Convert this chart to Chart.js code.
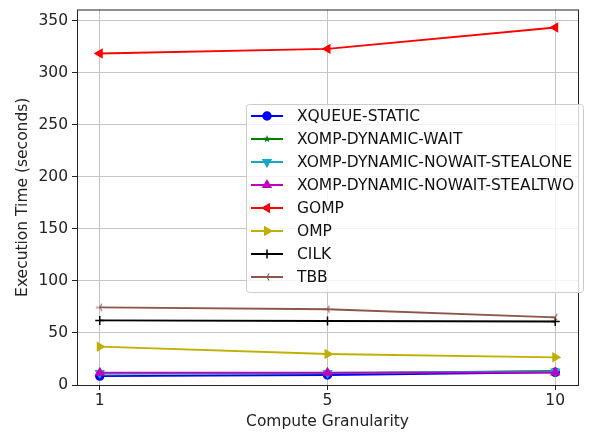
<!DOCTYPE html>
<html>
<head>
<meta charset="utf-8">
<script src="https://cdn.jsdelivr.net/npm/chart.js@4.4.0/dist/chart.umd.min.js"></script>
<style>
  html, body { margin: 0; padding: 0; background: #fff; }
  #wrap { width: 595px; height: 436px; }
</style>
</head>
<body>
<div id="wrap"><canvas id="chart" width="595" height="436"></canvas></div>
<script>
// Data
const xLabels = ['1', '5', '10'];
const seriesNames = [
    'XQUEUE-STATIC',
    'XOMP-DYNAMIC-WAIT',
    'XOMP-DYNAMIC-NOWAIT-STEALONE',
    'XOMP-DYNAMIC-NOWAIT-STEALTWO',
    'GOMP',
    'OMP',
    'CILK',
    'TBB'
];
const xqueueStatic = [8.6, 9.6, 12.2];
const xompWait = [11.0, 11.2, 13.5];
const xompStealOne = [11.5, 11.6, 13.0];
const xompStealTwo = [11.8, 11.8, 12.0];
const gomp = [318.5, 323.0, 343.5];
const omp = [36.8, 29.8, 26.6];
const cilk = [62.0, 61.5, 61.0];
const tbb = [74.5, 72.8, 65.0];
const yTicks = [0, 50, 100, 150, 200, 250, 300, 350];

const FONT = 'DejaVu Sans';

// small canvas markers for shapes Chart.js doesn't have
function starMarker(color, r) {
    const c = document.createElement('canvas');
    const s = Math.ceil(r * 2 + 2);
    c.width = s; c.height = s;
    const g = c.getContext('2d');
    g.fillStyle = color;
    g.beginPath();
    for (let i = 0; i < 10; i++) {
        const rad = i % 2 === 0 ? r : r * 0.42;
        const a = -Math.PI / 2 + i * Math.PI / 5;
        const px = s / 2 + rad * Math.cos(a), py = s / 2 + rad * Math.sin(a);
        if (i === 0) g.moveTo(px, py); else g.lineTo(px, py);
    }
    g.closePath();
    g.fill();
    return c;
}

function triLeftMarker(color, r) {
    const c = document.createElement('canvas');
    const s = Math.ceil(r * 2 + 2);
    c.width = s; c.height = s;
    const g = c.getContext('2d');
    g.strokeStyle = color;
    g.lineWidth = 1.2;
    const cx = s / 2, cy = s / 2;
    g.beginPath();
    g.moveTo(cx, cy); g.lineTo(cx - r, cy);
    g.moveTo(cx, cy); g.lineTo(cx + r * 0.5, cy - r * 0.87);
    g.moveTo(cx, cy); g.lineTo(cx + r * 0.5, cy + r * 0.87);
    g.stroke();
    return c;
}

const styles = [
    { data: xqueueStatic, color: '#0000ff', pointStyle: 'circle', radius: 4, rotation: 0 },
    { data: xompWait, color: '#008000', pointStyle: starMarker('#008000', 4), radius: 4, rotation: 0 },
    { data: xompStealOne, color: '#17a6c8', pointStyle: 'triangle', radius: 4.5, rotation: 180 },
    { data: xompStealTwo, color: '#bf00bf', pointStyle: 'triangle', radius: 4.5, rotation: 0 },
    { data: gomp, color: '#ff0000', pointStyle: 'triangle', radius: 4.5, rotation: -90 },
    { data: omp, color: '#bfb000', pointStyle: 'triangle', radius: 4.5, rotation: 90 },
    { data: cilk, color: '#000000', pointStyle: 'cross', radius: 4.5, rotation: 0 },
    { data: tbb, color: '#8c564b', pointStyle: triLeftMarker('#8c564b', 4), radius: 4, rotation: 0 }
];

const datasets = styles.map((s, i) => ({
    label: seriesNames[i],
    data: s.data.map((v, j) => ({ x: j, y: v })),
    borderColor: s.color,
    backgroundColor: s.color,
    borderWidth: 1.8,
    pointStyle: s.pointStyle,
    pointRadius: s.radius,
    pointRotation: s.rotation,
    pointBorderWidth: 1.5,
    pointBorderColor: s.color,
    pointBackgroundColor: s.color,
    tension: 0,
    order: -i
}));

// frame around the plot area, like matplotlib spines
const framePlugin = {
    id: 'frame',
    afterDatasetsDraw(chart) {
        const { ctx, chartArea: a } = chart;
        ctx.save();
        ctx.strokeStyle = '#222';
        ctx.lineWidth = 1;
        ctx.strokeRect(a.left + 0.5, a.top + 0.5, a.right - a.left, a.bottom - a.top);
        ctx.restore();
    }
};

// legend drawn inside the axes
const legendPlugin = {
    id: 'innerLegend',
    afterDraw(chart) {
        const ctx = chart.ctx;
        const box = { x: 246, y: 104, w: 337, h: 188 };
        ctx.save();
        ctx.fillStyle = 'rgba(255,255,255,0.8)';
        ctx.strokeStyle = '#cccccc';
        ctx.lineWidth = 1;
        ctx.beginPath();
        ctx.roundRect(box.x + 0.5, box.y + 0.5, box.w, box.h, 3);
        ctx.fill();
        ctx.stroke();
        ctx.font = '15.5px "' + FONT + '"';
        ctx.textBaseline = 'middle';
        chart.data.datasets.forEach((ds, i) => {
            const y = box.y + 12 + i * 23;
            ctx.strokeStyle = ds.borderColor;
            ctx.lineWidth = 2;
            ctx.beginPath();
            ctx.moveTo(251, y);
            ctx.lineTo(283, y);
            ctx.stroke();
            ctx.fillStyle = ds.backgroundColor;
            ctx.strokeStyle = ds.borderColor;
            ctx.lineWidth = 1.5;
            Chart.helpers.drawPoint(ctx, {
                pointStyle: ds.pointStyle,
                radius: ds.pointRadius,
                rotation: ds.pointRotation,
                borderWidth: 1.5
            }, 267, y);
            ctx.fillStyle = '#111';
            ctx.fillText(ds.label, 297, y + 1);
        });
        ctx.restore();
    }
};

new Chart(document.getElementById('chart').getContext('2d'), {
    type: 'line',
    data: { datasets: datasets },
    options: {
        responsive: false,
        animation: false,
        devicePixelRatio: 1,
        layout: { padding: { left: 0, top: 9.5, right: 17, bottom: 0 } },
        plugins: { legend: { display: false }, tooltip: { enabled: false } },
        scales: {
            x: {
                type: 'linear',
                min: -0.1,
                max: 2.1,
                afterBuildTicks: scale => { scale.ticks = xLabels.map((l, i) => ({ value: i })); },
                afterFit: scale => {
                    scale.height = 51;
                    scale.paddingLeft = 0;
                    scale.paddingRight = 0;
                },
                ticks: {
                    callback: v => xLabels[v],
                    color: '#222',
                    font: { family: FONT, size: 15.5 },
                    padding: 2,
                    maxRotation: 0
                },
                grid: { color: '#c4c4c4', lineWidth: 1, tickLength: 5, tickColor: '#222' },
                border: { display: false },
                title: {
                    display: true,
                    text: 'Compute Granularity',
                    color: '#222',
                    font: { family: FONT, size: 15.5 },
                    padding: { top: 0, bottom: 5 }
                }
            },
            y: {
                type: 'linear',
                min: 0,
                max: 360.8,
                afterBuildTicks: scale => { scale.ticks = yTicks.map(v => ({ value: v })); },
                afterFit: scale => {
                    scale.width = 77;
                    scale.paddingTop = 0;
                    scale.paddingBottom = 0;
                },
                ticks: {
                    color: '#222',
                    font: { family: FONT, size: 15.5 },
                    padding: 4
                },
                grid: { color: '#c4c4c4', lineWidth: 1, tickLength: 5, tickColor: '#222' },
                border: { display: false },
                title: {
                    display: true,
                    text: 'Execution Time (seconds)',
                    color: '#222',
                    font: { family: FONT, size: 15.5 },
                    padding: { top: 14, bottom: 0 }
                }
            }
        }
    },
    plugins: [framePlugin, legendPlugin]
});
</script>
</body>
</html>
